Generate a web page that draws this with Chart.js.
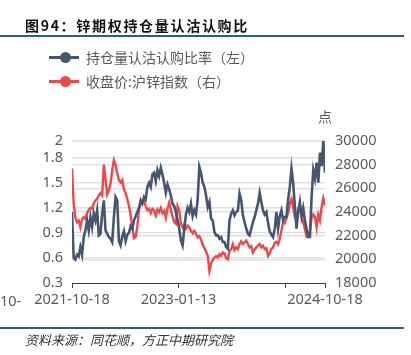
<!DOCTYPE html>
<html><head><meta charset="utf-8">
<script src="https://cdn.jsdelivr.net/npm/chart.js@4.4.1/dist/chart.umd.min.js"></script>
<style>
html,body{margin:0;padding:0;background:#fff;}
#wrap{position:relative;width:411px;height:355px;overflow:hidden;font-family:"Noto Sans CJK SC","Noto Sans",sans-serif;}
#c{position:absolute;left:0;top:0;}
.abs{position:absolute;white-space:nowrap;}
#title{left:25px;top:14px;font-size:14px;font-weight:bold;letter-spacing:1.7px;color:#111;line-height:22px;}
.hline{left:0;width:404px;height:1.5px;background:#2b5c88;}
.sym{width:30px;height:3px;}
.dot{width:11px;height:11px;border-radius:50%;}
.lt{font-size:14px;color:#595959;line-height:20px;}
#foot{left:25px;top:331px;font-size:13px;font-style:italic;color:#333;line-height:18px;}
#unit{left:318px;top:106px;font-size:14px;color:#595959;line-height:20px;}
#cut{left:0;top:290px;font-family:"Noto Sans",sans-serif;font-size:14.5px;color:#595959;line-height:20px;}
</style></head>
<body>
<div id="wrap">
<canvas id="c" width="411" height="355"></canvas>
<div class="abs" id="title">图94：锌期权持仓量认沽认购比</div>
<div class="abs hline" style="top:35px"></div>
<div class="abs sym" style="left:49px;top:55.5px;background:#46566f"></div>
<div class="abs dot" style="left:59.5px;top:51.5px;background:#46566f"></div>
<div class="abs lt" style="left:86px;top:47px">持仓量认沽认购比率（左）</div>
<div class="abs sym" style="left:49px;top:79.5px;background:#f04848"></div>
<div class="abs dot" style="left:59.5px;top:75.5px;background:#f04848"></div>
<div class="abs lt" style="left:86px;top:71px">收盘价:沪锌指数（右）</div>
<div class="abs" id="unit">点</div>
<div class="abs" id="cut">10-</div>
<div class="abs hline" style="top:327px"></div>
<div class="abs" id="foot">资料来源：同花顺，方正中期研究院</div>
</div>
<script>
// Weekly samples from 2021-10-18 to 2024-10-18
const ratioValues = [1.15,0.60,0.58,0.64,0.62,0.73,0.64,0.85,0.93,1.05,
0.93,1.09,0.97,1.13,1.05,1.17,0.87,0.89,1.13,1.29,
0.93,0.89,0.85,0.83,0.79,1.09,1.33,1.29,0.80,0.75,
0.86,0.92,0.80,0.88,0.90,0.98,
0.95,1.05,1.10,1.15,1.20,1.29,1.25,1.33,1.30,1.45,
1.50,1.45,1.60,1.62,1.52,1.65,1.58,1.68,1.60,1.50,
1.38,1.48,1.42,1.35,1.25,1.22,1.15,1.05,0.95,0.81,
0.75,0.95,1.12,1.20,1.15,1.25,1.10,1.17,1.12,1.30,
1.69,1.62,1.50,1.45,1.35,
1.21,1.27,1.07,1.05,0.91,0.87,0.87,0.83,0.85,0.79,
0.79,0.73,0.71,1.05,1.13,1.17,1.11,1.15,1.17,1.37,
1.29,1.11,1.03,0.95,0.89,0.87,0.95,1.03,1.09,1.17,1.25,
1.38,1.27,1.17,1.12,1.15,1.02,0.92,0.88,0.85,0.95,
1.15,0.95,1.10,1.17,1.05,1.09,1.09,1.30,1.45,1.67,
1.50,1.22,0.95,1.15,1.27,1.10,1.20,1.05,0.95,0.85,
0.85,1.33,1.65,1.55,1.74,1.50,1.86,1.70,2.00,1.62];
const zincIndex = [27670,24700,23560,23140,23280,22710,23420,23560,23420,23900,
24190,24360,24270,24750,24980,25120,25400,25600,25400,28000,
26800,25490,25830,26400,27530,28380,28000,27300,26700,26500,
26700,25900,25600,25100,24500,23700,22700,21800,21900,22800,
24200,24700,24830,24900,24500,24150,24270,23900,24270,24150,
23700,24200,24000,24350,23900,24100,23500,24300,24800,24200,
23600,23150,23000,24500,24130,23000,22700,22950,22600,22850,
22700,22420,22200,22400,22150,21860,21970,21690,21230,20950,
20670,20300,19020,19650,19930,20160,20270,20160,20440,20300,
20580,20500,20100,20010,20720,20870,21290,20780,21010,20870,
21290,21520,21290,21430,21580,21290,21010,21120,20580,20840,
21010,21150,21290,21010,21150,20870,20950,20300,20500,20900,
21000,21400,21500,21280,21700,22430,23200,23050,23500,23900,
24700,25100,24400,23560,23300,24300,24500,23600,23100,22600,
21900,21900,22400,23500,23800,23600,22700,23800,23300,24400,
25150,24550];
const xTickPos = [0, 63.6, 127.2, 151];
const xTickLabels = ['2021-10-18', '2023-01-13', '', '2024-10-18'];
const leftTicks = [0.3, 0.6, 0.9, 1.2, 1.5, 1.8, 2];
const rightTicks = [18000, 20000, 22000, 24000, 26000, 28000, 30000];
const seriesNames = ['持仓量认沽认购比率（左）', '收盘价:沪锌指数（右）'];

const tickFont = {family: '"Noto Sans", sans-serif', size: 14.5};
const tickColor = '#595959';
const gridColor = '#dde1ea';

new Chart(document.getElementById('c'), {
  type: 'line',
  data: {
    datasets: [
      {label: seriesNames[0], data: ratioValues.map((v, i) => ({x: i, y: v})), yAxisID: 'y',
       borderColor: '#46566f', borderWidth: 2.6, pointRadius: 0, tension: 0},
      {label: seriesNames[1], data: zincIndex.map((v, i) => ({x: i, y: v})), yAxisID: 'y1',
       borderColor: '#f04848', borderWidth: 2.4, pointRadius: 0, tension: 0}
    ]
  },
  options: {
    responsive: false, animation: false, devicePixelRatio: 1,
    layout: {padding: {top: 141, left: 0, right: 0, bottom: 0}},
    plugins: {legend: {display: false}, tooltip: {enabled: false}},
    scales: {
      x: {
        type: 'linear', min: 0, max: ratioValues.length - 1,
        afterBuildTicks: s => { s.ticks = xTickPos.map(v => ({value: v})); },
        afterFit: s => { s.height = 72; },
        ticks: {autoSkip: false, maxRotation: 0, color: tickColor, font: tickFont, padding: 3,
          callback: (v) => { const k = xTickPos.indexOf(v); return k >= 0 ? xTickLabels[k] : ''; }},
        grid: {drawOnChartArea: false, drawTicks: true, tickLength: 5, color: '#404040', lineWidth: 1},
        border: {display: true, color: '#404040', width: 1}
      },
      y: {
        position: 'left', min: 0.3, max: 2,
        afterBuildTicks: s => { s.ticks = leftTicks.map(v => ({value: v})); },
        afterFit: s => { s.width = 72; },
        ticks: {color: tickColor, font: tickFont, padding: 9, callback: v => String(v)},
        grid: {color: (ctx) => ctx.tick && ctx.tick.value === 0.3 ? 'rgba(0,0,0,0)' : gridColor, lineWidth: 1.5, drawTicks: false},
        border: {display: false}
      },
      y1: {
        position: 'right', min: 18000, max: 30000,
        afterBuildTicks: s => { s.ticks = rightTicks.map(v => ({value: v})); },
        afterFit: s => { s.width = 86; },
        ticks: {color: tickColor, font: tickFont, padding: 10, callback: v => String(v)},
        grid: {color: (ctx) => ctx.tick && ctx.tick.value === 18000 ? 'rgba(0,0,0,0)' : gridColor, lineWidth: 1.5, drawTicks: false},
        border: {display: false}
      }
    }
  }
});
</script>
</body></html>
